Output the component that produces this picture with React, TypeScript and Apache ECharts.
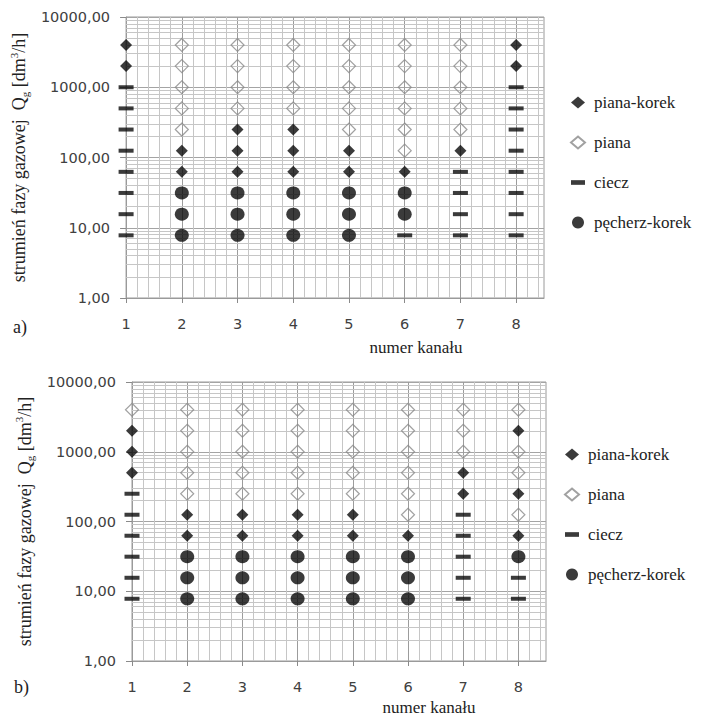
import React, { useEffect, useRef } from 'react';
import * as echarts from 'echarts';

// ---- data ----
const channels = [1, 2, 3, 4, 5, 6, 7, 8];
const flows = [7.8, 15.6, 31.3, 62.5, 125, 250, 500, 1000, 2000, 4000];
const regimeCodes = ['K', 'P', 'C', 'B'];
const regimeNames: Record<string, string> = {
  K: 'piana-korek',
  P: 'piana',
  C: 'ciecz',
  B: 'pęcherz-korek',
};
// one string per channel, one letter per flow (lowest flow first)
const panelA = ['CCCCCCCCKK', 'BBBKKPPPPP', 'BBBKKKPPPP', 'BBBKKKPPPP', 'BBBKKPPPPP', 'CBBKPPPPPP', 'CCCCKPPPPP', 'CCCCCCCCKK'];
const panelB = ['CCCCCCKKKP', 'BBBKKPPPPP', 'BBBKKPPPPP', 'BBBKKPPPPP', 'BBBKKPPPPP', 'BBBKPPPPPP', 'CCCCCKKPPP', 'CCBKPKPPKP'];
const panelLabels = ['a)', 'b)'];
const xName = 'numer kanału';

const SERIF = 'Liberation Serif';
const SANS = 'DejaVu Sans';

function pointsFor(panel: string[], code: string) {
  const pts: number[][] = [];
  panel.forEach((s, ci) => {
    for (let fi = 0; fi < s.length; fi++) {
      if (s[fi] === code) pts.push([channels[ci], flows[fi]]);
    }
  });
  return pts;
}

const symbolStyles: Record<string, any> = {
  K: { symbol: 'diamond', symbolSize: 12, itemStyle: { color: '#0a0a0a' } },
  P: {
    symbol: 'diamond',
    symbolSize: 13,
    itemStyle: { color: 'rgba(255,255,255,0)', borderColor: '#8a8a8a', borderWidth: 1.2 },
  },
  C: { symbol: 'rect', symbolSize: [15, 4], itemStyle: { color: '#0a0a0a' } },
  B: { symbol: 'circle', symbolSize: [14, 13], itemStyle: { color: '#0a0a0a' } },
};

export default function App() {
  const ref = useRef<HTMLDivElement>(null);
  useEffect(() => {
    document.body.style.margin = '0';
    if (!ref.current) return;
    const chart = echarts.init(ref.current, undefined, { renderer: 'svg' });

    const minorY: number[] = [];
    for (let d = 1; d < 10000; d *= 10) for (let m = 2; m <= 9; m++) minorY.push(m * d);
    const minorX: number[] = [];
    for (let i = 1; i <= 37; i++) {
      const v = Math.round((1 + i * 0.2) * 10) / 10;
      if (!Number.isInteger(v)) minorX.push(v);
    }

    const grids = [
      { left: 119, top: 17, width: 425, height: 281 },
      { left: 132, top: 382, width: 414, height: 279 },
    ];
    const nameGaps = [86, 78];
    const legendPos = [
      { left: 565, top: 89 },
      { left: 559, top: 441 },
    ];
    const xNamePos = [
      { x: 416, y: 347 },
      { x: 429, y: 707 },
    ];
    const panelLabelPos = [
      { x: 13, y: 327 },
      { x: 14, y: 687 },
    ];

    const series: any[] = [];
    [panelA, panelB].forEach((panel, p) => {
      series.push({
        type: 'scatter',
        name: 'grid' + p,
        xAxisIndex: p,
        yAxisIndex: p,
        data: [],
        silent: true,
        z: 1,
        markLine: {
          silent: true,
          z: 1,
          symbol: ['none', 'none'],
          label: { show: false },
          lineStyle: { color: '#c6c6c6', width: 1, type: 'solid' },
          emphasis: { disabled: true },
          data: [
            ...minorY.map((v) => ({ yAxis: v })),
            ...minorX.map((v) => ({ xAxis: v })),
          ],
        },
      });
      regimeCodes.forEach((code) => {
        series.push({
          type: 'scatter',
          name: regimeNames[code],
          xAxisIndex: p,
          yAxisIndex: p,
          z: 3,
          data: pointsFor(panel, code),
          ...symbolStyles[code],
        });
      });
    });

    const legendData = [
      { name: 'piana-korek', icon: 'diamond' },
      { name: 'piana', icon: 'diamond' },
      { name: 'ciecz', icon: 'path://M0,0H15V5H0Z' },
      { name: 'pęcherz-korek', icon: 'circle' },
    ];

    const option: any = {
      animation: false,
      backgroundColor: '#fff',
      textStyle: { fontFamily: SANS },
      grid: grids.map((g) => ({ ...g, show: true, borderColor: '#9a9a9a', borderWidth: 1, containLabel: false })),
      xAxis: grids.map((_, p) => ({
        type: 'value',
        gridIndex: p,
        min: 1,
        max: 8.5,
        interval: 1,
        axisLine: { show: true, lineStyle: { color: '#9a9a9a' } },
        axisTick: { show: true, length: 5, lineStyle: { color: '#8a8a8a' }, customValues: channels },
        axisLabel: {
          customValues: channels,
          formatter: (v: number) => (Number.isInteger(v) ? String(v) : ''),
          margin: 18,
          fontFamily: SANS,
          fontSize: 14.5,
          color: '#404040',
        },
        splitLine: { show: true, lineStyle: { color: '#9c9c9c', width: 1 } },
      })),
      yAxis: grids.map((_, p) => ({
        type: 'log',
        logBase: 10,
        gridIndex: p,
        min: 1,
        max: 10000,
        axisLine: { show: true, lineStyle: { color: '#9a9a9a' } },
        axisTick: { show: true, length: 6, lineStyle: { color: '#8a8a8a' } },
        axisLabel: {
          formatter: (v: number) => Number(v).toFixed(2).replace('.', ','),
          margin: 16,
          fontFamily: SANS,
          fontSize: 14.5,
          color: '#404040',
        },
        splitLine: { show: true, lineStyle: { color: '#a4a4a4', width: 1 } },
        name: 'strumień fazy gazowej  Q{sub|g} [dm{sup|3}/h]',
        nameLocation: 'middle',
        nameRotate: 90,
        nameGap: nameGaps[p],
        nameTextStyle: {
          fontFamily: SERIF,
          fontSize: 18,
          color: '#222',
          lineHeight: 22,
          rich: {
            sub: { fontFamily: SERIF, fontSize: 11, color: '#222', lineHeight: 12, verticalAlign: 'bottom' },
            sup: { fontFamily: SERIF, fontSize: 11, color: '#222', lineHeight: 12, verticalAlign: 'top' },
          },
        },
      })),
      legend: legendPos.map((lp) => ({
        ...lp,
        orient: 'vertical',
        itemWidth: 14,
        itemHeight: 12,
        itemGap: 23,
        symbolKeepAspect: true,
        selectedMode: false,
        data: legendData,
        textStyle: { fontFamily: SERIF, fontSize: 17, color: '#222', padding: [0, 0, 0, 4] },
      })),
      graphic: [
        ...xNamePos.map((pos) => ({
          type: 'text',
          x: pos.x,
          y: pos.y,
          style: {
            text: xName,
            align: 'center',
            verticalAlign: 'middle',
            fontFamily: SERIF,
            fontSize: 17,
            fill: '#222',
          },
        })),
        ...panelLabelPos.map((pos, i) => ({
          type: 'text',
          x: pos.x,
          y: pos.y,
          style: {
            text: panelLabels[i],
            align: 'left',
            verticalAlign: 'middle',
            fontFamily: SERIF,
            fontSize: 18,
            fill: '#222',
          },
        })),
      ],
      series,
    };
    chart.setOption(option);
    return () => chart.dispose();
  }, []);
  return <div ref={ref} style={{ width: 706, height: 718 }} />;
}
